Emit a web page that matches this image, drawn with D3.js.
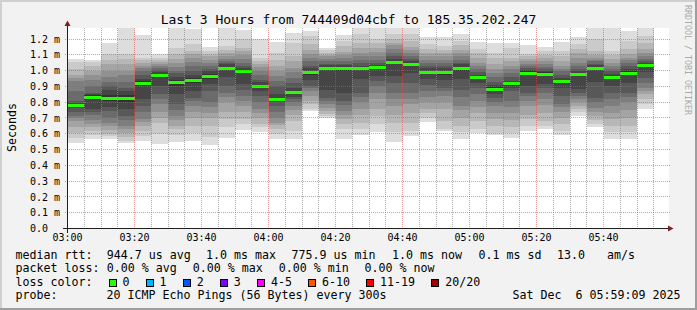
<!DOCTYPE html>
<html>
<head>
<meta charset="utf-8">
<script src="https://cdn.jsdelivr.net/npm/d3@7"></script>
<style>
html, body { margin: 0; padding: 0; background: #f2f2f2; }
svg { display: block; }
text { font-family: "DejaVu Sans Mono", monospace; fill: #000; }
</style>
</head>
<body>
<div id="chart"></div>
<script>
// 5 minute slots, start time of each
var slotTimes = ["03:00","03:05","03:10","03:15","03:20","03:25","03:30","03:35","03:40","03:45",
  "03:50","03:55","04:00","04:05","04:10","04:15","04:20","04:25","04:30","04:35",
  "04:40","04:45","04:50","04:55","05:00","05:05","05:10","05:15","05:20","05:25",
  "05:30","05:35","05:40","05:45","05:50"];

// median rtt per slot (us)
var medianRtt = [777,829,825,823,916,966,924,937,964,1015,994,901,819,861,987,1015,1013,1013,1018,1050,
  1040,990,987,1013,954,882,916,983,977,928,975,1013,954,983,1030];

// the 20 sorted ping times of every slot (us)
var pingRtt = [
  [544,575,608,640,680,700,713,740,762,772,782,795,808,870,935,955,971,1010,1055,1074],
  [568,590,620,645,665,690,720,740,758,815,843,855,861,900,940,970,998,1030,1055,1068],
  [568,585,600,625,650,671,700,745,770,805,845,880,903,930,960,998,1040,1070,1104,1177],
  [540,555,580,608,630,650,690,713,760,800,846,870,892,930,970,998,1040,1072,1104,1270],
  [555,587,620,650,675,692,735,777,820,900,932,950,970,998,1015,1030,1050,1065,1082,1226],
  [536,600,671,700,740,789,820,851,900,955,977,990,1005,1015,1030,1040,1055,1068,1082,1104],
  [551,590,630,650,690,713,750,790,851,905,943,960,985,998,1020,1050,1075,1104,1146,1270],
  [557,608,650,703,740,777,805,829,871,920,954,975,1000,1030,1055,1082,1105,1125,1167,1266],
  [530,580,650,700,734,770,800,871,914,950,978,995,1010,1030,1050,1070,1090,1105,1125,1150],
  [574,640,694,740,800,830,861,900,960,1005,1025,1040,1050,1062,1072,1090,1110,1130,1156,1270],
  [625,660,694,740,777,810,840,880,914,985,1003,1015,1030,1050,1075,1100,1125,1146,1200,1258],
  [614,640,660,700,734,760,800,840,870,890,912,925,940,970,998,1020,1040,1060,1082,1200],
  [570,600,630,655,671,700,740,777,800,812,826,850,903,935,966,1000,1030,1070,1114,1180],
  [570,620,682,720,750,777,800,819,835,850,872,892,920,956,990,1019,1060,1093,1177,1240],
  [745,756,790,808,840,871,890,903,940,975,999,1015,1030,1061,1080,1104,1130,1167,1220,1250],
  [700,712,724,745,766,790,810,829,880,1005,1025,1035,1045,1060,1075,1090,1100,1114,1130,1146],
  [570,629,660,692,720,745,780,808,861,1000,1026,1035,1045,1061,1080,1100,1120,1156,1190,1224],
  [593,630,671,720,760,800,830,861,946,1005,1021,1032,1050,1070,1090,1114,1145,1177,1230,1270],
  [612,660,713,760,819,860,903,935,966,1008,1028,1038,1050,1070,1093,1120,1146,1175,1200,1270],
  [550,610,671,720,777,820,861,920,966,1040,1060,1072,1090,1110,1135,1160,1177,1200,1230,1270],
  [589,620,671,730,787,820,861,920,987,1030,1050,1061,1075,1090,1114,1130,1150,1188,1230,1270],
  [675,700,734,760,800,830,871,910,950,980,1000,1015,1030,1050,1070,1090,1110,1140,1167,1210],
  [618,629,680,756,800,840,870,892,940,975,999,1015,1030,1050,1070,1093,1110,1130,1156,1215],
  [568,610,650,700,750,777,830,880,946,1000,1026,1040,1050,1070,1090,1110,1130,1160,1190,1230],
  [605,629,680,734,770,808,850,892,920,945,963,975,990,1009,1030,1050,1080,1110,1135,1180],
  [593,608,650,692,730,777,800,829,855,870,894,910,930,960,985,1009,1040,1080,1114,1177],
  [572,605,640,690,734,770,810,871,890,905,927,935,960,985,1009,1030,1060,1082,1146,1177],
  [620,650,692,720,777,810,840,861,900,970,996,1005,1015,1030,1045,1060,1075,1090,1104,1163],
  [629,650,680,734,780,820,860,890,914,965,989,1000,1010,1025,1040,1060,1080,1100,1125,1150],
  [591,620,660,703,740,770,787,840,890,918,938,955,975,995,1010,1030,1060,1090,1125,1184],
  [713,735,755,777,800,820,840,860,882,965,985,995,1010,1030,1050,1080,1110,1140,1170,1213],
  [645,665,690,713,740,766,800,829,930,1003,1023,1035,1045,1060,1070,1082,1100,1125,1200,1270],
  [566,610,650,692,730,777,820,861,900,945,963,980,995,1010,1030,1050,1072,1100,1125,1270],
  [570,610,650,700,750,800,830,861,920,970,996,1009,1030,1050,1065,1082,1105,1135,1188,1250],
  [760,790,819,850,870,892,920,956,990,1020,1040,1050,1060,1075,1090,1114,1140,1177,1220,1270]
];

var yTicks = [0,100,200,300,400,500,600,700,800,900,1000,1100,1200];
var yTickLabels = ["0.0","0.1 m","0.2 m","0.3 m","0.4 m","0.5 m","0.6 m","0.7 m","0.8 m","0.9 m","1.0 m","1.1 m","1.2 m"];
var timeStart = "03:00", timeEnd = "06:00";

var titleText = "Last 3 Hours from 744409d04cbf to 185.35.202.247";
var rttStats = ["median rtt:","944.7 us avg","1.0 ms max","775.9 us min","1.0 ms now","0.1 ms sd","13.0","am/s"];
var lossStats = ["packet loss:","0.00 % avg","0.00 % max","0.00 % min","0.00 % now"];
var lossLabels = ["0","1","2","3","4-5","6-10","11-19","20/20"];
var lossColors = ["#26ff00","#00b8ff","#0059ff","#7e00ff","#ff00ff","#ff5500","#ff0000","#a10000"];
var probeText = ["probe:","20 ICMP Echo Pings (56 Bytes) every 300s","Sat Dec  6 05:59:09 2025"];

var W = 697, H = 310;
var plotTop = 28, plotBottom = 228.5, plotLeft = 67.5;

function toDate(s) {
  var p = s.split(":");
  return new Date(Date.UTC(2025, 11, 6, +p[0], +p[1]));
}

var x = d3.scaleUtc().domain([toDate(timeStart), toDate(timeEnd)]).range([plotLeft, plotLeft + 603]);
var y = d3.scaleLinear().domain([0, 1270]).range([plotBottom, plotTop]);

var svg = d3.select("#chart").append("svg").attr("width", W).attr("height", H);

// background and shaded frame
svg.append("rect").attr("width", W).attr("height", H).attr("fill", "#f2f2f2");
svg.append("rect").attr("x", 0).attr("y", 0).attr("width", W).attr("height", 2).attr("fill", "#cfcfcf");
svg.append("rect").attr("x", 0).attr("y", 0).attr("width", 2).attr("height", H).attr("fill", "#cfcfcf");
svg.append("rect").attr("x", 0).attr("y", H - 2).attr("width", W).attr("height", 2).attr("fill", "#9e9e9e");
svg.append("rect").attr("x", W - 2).attr("y", 0).attr("width", 2).attr("height", H).attr("fill", "#9e9e9e");

// canvas
svg.append("rect").attr("x", 67).attr("y", plotTop).attr("width", 602).attr("height", 200).attr("fill", "#fff");

svg.append("clipPath").attr("id", "plotclip").append("rect")
  .attr("x", 67).attr("y", plotTop).attr("width", 602).attr("height", 200);

// smoke: band b spans ping b .. ping 19-b, darker toward the middle
var smokeGray = d3.range(10).map(function (b) {
  var c = Math.floor(190 / 10 * (10 - (b + 1))) + 50;
  return d3.rgb(c, c, c).toString();
});

var plot = svg.append("g").attr("clip-path", "url(#plotclip)");
var slots = plot.selectAll("g.slot").data(slotTimes).join("g").attr("class", "slot");

slots.each(function (s, i) {
  var t = toDate(s);
  var x0 = x(t), x1 = x(d3.utcMinute.offset(t, 5));
  var p = pingRtt[i];
  d3.select(this).selectAll("rect").data(d3.range(10)).join("rect")
    .attr("x", x0).attr("width", x1 - x0)
    .attr("y", function (b) { return y(p[19 - b]); })
    .attr("height", function (b) { return y(p[b]) - y(p[19 - b]); })
    .attr("fill", function (b) { return smokeGray[b]; })
    .attr("shape-rendering", "crispEdges");
});

// median lines (loss 0 -> green)
plot.selectAll("rect.median").data(slotTimes).join("rect").attr("class", "median")
  .attr("x", function (s) { return x(toDate(s)); })
  .attr("width", function (s) { var t = toDate(s); return x(d3.utcMinute.offset(t, 5)) - x(t); })
  .attr("y", function (s, i) { return y(medianRtt[i]) - 1.5; })
  .attr("height", 3)
  .attr("fill", lossColors[0])
  .attr("shape-rendering", "crispEdges");

// grid on top of the data
var grid = svg.append("g").attr("shape-rendering", "crispEdges");
var endTime = +toDate(timeEnd);
var majorTicks = x.ticks(d3.utcMinute.every(20)).filter(function (d) { return +d < endTime; });
var minorTicks = x.ticks(d3.utcMinute.every(5)).filter(function (d) {
  return +d < endTime && d.getUTCMinutes() % 20 !== 0;
});
function px(v) { return Math.round(v - 0.5) + 0.5; }

grid.selectAll("line.minor").data(minorTicks).join("line").attr("class", "minor")
  .attr("x1", function (d) { return px(x(d)); }).attr("x2", function (d) { return px(x(d)); })
  .attr("y1", plotTop).attr("y2", 228)
  .attr("stroke", "rgba(143,143,143,0.75)").attr("stroke-dasharray", "1,1");

grid.selectAll("line.vmajor").data(majorTicks).join("line").attr("class", "vmajor")
  .attr("x1", function (d) { return px(x(d)); }).attr("x2", function (d) { return px(x(d)); })
  .attr("y1", plotTop).attr("y2", 228)
  .attr("stroke", "rgba(222,79,79,0.6)").attr("stroke-dasharray", "1,1");

grid.selectAll("line.hmajor").data(yTicks.slice(1)).join("line").attr("class", "hmajor")
  .attr("x1", 65).attr("x2", 671)
  .attr("y1", function (d) { return px(y(d)); }).attr("y2", function (d) { return px(y(d)); })
  .attr("stroke", "rgba(222,79,79,0.6)").attr("stroke-dasharray", "1,1");

// axes with arrows
svg.append("line").attr("x1", 63).attr("x2", 669).attr("y1", plotBottom).attr("y2", plotBottom)
  .attr("stroke", "#1f1f1f").attr("shape-rendering", "crispEdges");
svg.append("line").attr("x1", plotLeft).attr("x2", plotLeft).attr("y1", plotBottom + 4).attr("y2", 25)
  .attr("stroke", "#1f1f1f").attr("shape-rendering", "crispEdges");
svg.append("path").attr("d", "M668,225.5L673.5,228.5L668,231.5Z").attr("fill", "#801f1f");
svg.append("path").attr("d", "M64.5,26L67.5,20.5L70.5,26Z").attr("fill", "#801f1f");

// tick labels
svg.selectAll("text.ylab").data(yTicks).join("text").attr("class", "ylab")
  .attr("x", 30).attr("y", function (d) { return y(d) + 3.6; })
  .style("font-size", "10px")
  .text(function (d, i) { return yTickLabels[i]; });

svg.selectAll("text.xlab").data(majorTicks)
  .join("text").attr("class", "xlab")
  .attr("x", function (d) { return x(d); }).attr("y", 240.5)
  .attr("text-anchor", "middle").style("font-size", "10px")
  .text(d3.utcFormat("%H:%M"));

// title, unit, watermark
svg.append("text").attr("x", 348.5).attr("y", 24).attr("text-anchor", "middle")
  .style("font-size", "13px").text(titleText);
svg.append("text").attr("transform", "translate(15.5,127.5) rotate(-90)").attr("text-anchor", "middle")
  .style("font-size", "11.6px").text("Seconds");
svg.append("text").attr("transform", "translate(685,5) rotate(90)")
  .style("font-size", "8.3px").style("fill", "#aaa").text("RRDTOOL / TOBI OETIKER");

// legend
var legend = svg.append("g").style("font-size", "11.63px");
var rttCols = [15.5, 106.7, 206, 291.6, 392, 478.6, 557, 607];
var lossCols = [15.5, 106.7, 192.7, 278.7, 364.4];
var probeCols = [15.5, 106.6, 512.6];

legend.selectAll("text.rtt").data(rttStats).join("text").attr("class", "rtt")
  .attr("x", function (d, i) { return rttCols[i]; }).attr("y", 258.5).text(function (d) { return d; });
legend.selectAll("text.loss").data(lossStats).join("text").attr("class", "loss")
  .attr("x", function (d, i) { return lossCols[i]; }).attr("y", 272).text(function (d) { return d; });
legend.append("text").attr("x", 15.5).attr("y", 285.5).text("loss color:");

var charW = 7.0, boxX = [108.5];
lossLabels.forEach(function (l, i) {
  if (i > 0) boxX.push(boxX[i - 1] + (lossLabels[i - 1].length + 4.3) * charW);
});
legend.selectAll("rect.lossbox").data(lossLabels).join("rect").attr("class", "lossbox")
  .attr("x", function (d, i) { return Math.round(boxX[i]) + 0.5; }).attr("y", 279.5)
  .attr("width", 7).attr("height", 7)
  .attr("fill", function (d, i) { return lossColors[i]; })
  .attr("stroke", "#000").attr("shape-rendering", "crispEdges");
legend.selectAll("text.losslab").data(lossLabels).join("text").attr("class", "losslab")
  .attr("x", function (d, i) { return boxX[i] + 14; }).attr("y", 285.5).text(function (d) { return d; });

legend.selectAll("text.probe").data(probeText).join("text").attr("class", "probe")
  .attr("x", function (d, i) { return probeCols[i]; }).attr("y", 299)
  .style("white-space", "pre").text(function (d) { return d; });
</script>
</body>
</html>
